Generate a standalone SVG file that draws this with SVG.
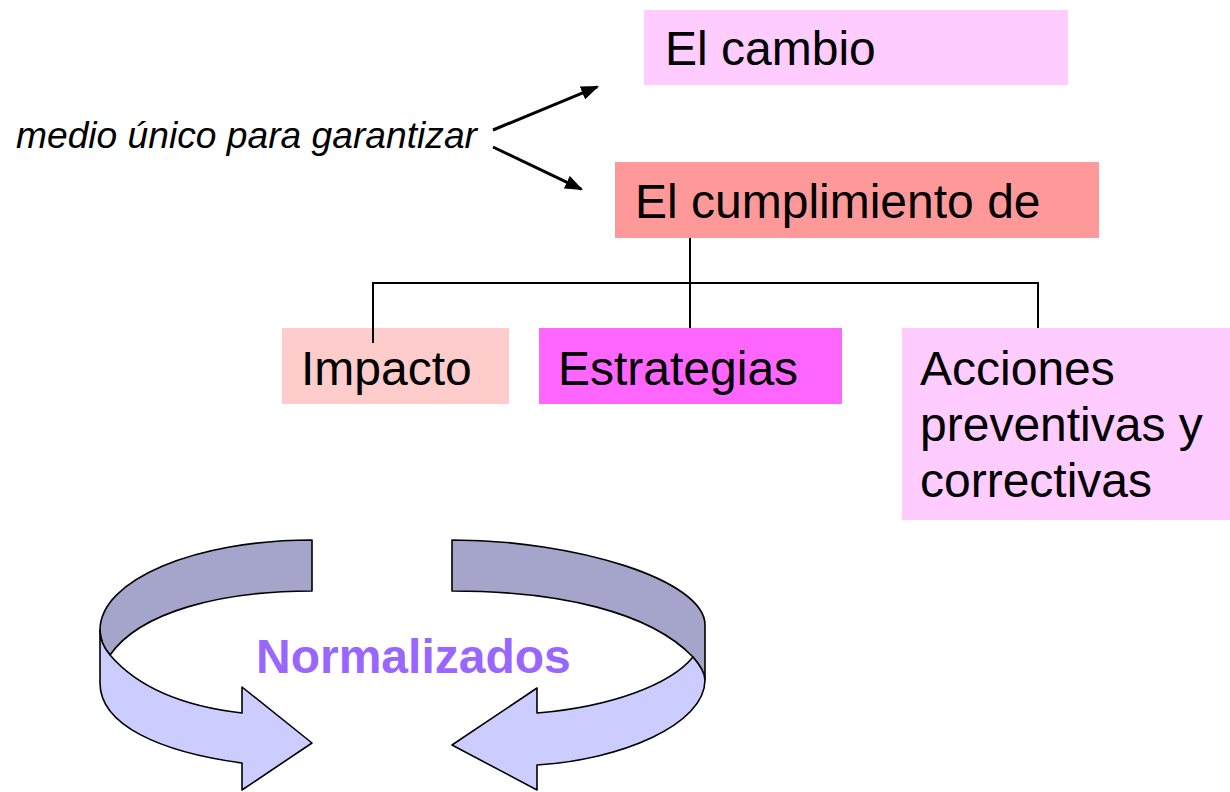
<svg xmlns="http://www.w3.org/2000/svg" width="1230" height="792" viewBox="0 0 1230 792">
<style>
.t{font-family:"Liberation Sans",Arial,sans-serif;font-size:48px;fill:#000}
.it{font-family:"Liberation Sans",Arial,sans-serif;font-size:37px;font-style:italic;fill:#000}
.nb{font-family:"Liberation Sans",Arial,sans-serif;font-size:48px;font-weight:bold;fill:#9966FF}
.c{stroke:#000;stroke-width:2;fill:none}
.a{stroke:#000;stroke-width:3;fill:none;marker-end:url(#ah)}
.dk{fill:#A5A5CC;stroke:#000;stroke-width:1.6;stroke-linejoin:round}
.lt{fill:#CCCCFF;stroke:#000;stroke-width:1.6;stroke-linejoin:round}
</style>
<defs>
<marker id="ah" markerUnits="userSpaceOnUse" markerWidth="18" markerHeight="14" refX="16" refY="7" orient="auto">
<path d="M0,0 L18,7 L0,14 Z" fill="#000"/>
</marker>
</defs>
<rect width="1230" height="792" fill="#fff"/>

<g id="label-medio">
<text class="it" x="16" y="148" textLength="461" lengthAdjust="spacingAndGlyphs">medio único para garantizar</text>
</g>

<g id="node-cambio">
<rect x="644" y="10" width="424" height="75" fill="#FFCCFF"/>
<text class="t" x="665" y="65">El cambio</text>
</g>

<g id="node-cumplimiento">
<rect x="615" y="162" width="484" height="76" fill="#FF9999"/>
<text class="t" x="635" y="218">El cumplimiento de</text>
</g>

<g id="node-impacto">
<rect x="282" y="328" width="227" height="76" fill="#FFCCCC"/>
<text class="t" x="301" y="385">Impacto</text>
</g>

<g id="node-estrategias">
<rect x="539" y="328" width="303" height="76" fill="#FF66FF"/>
<text class="t" x="558" y="385">Estrategias</text>
</g>

<g id="node-acciones">
<rect x="902" y="328" width="328" height="192" fill="#FFCCFF"/>
<text class="t" x="920" y="385">Acciones</text>
<text class="t" x="920" y="441">preventivas y</text>
<text class="t" x="920" y="497">correctivas</text>
</g>

<g id="connectors">
<line class="a" x1="493" y1="130" x2="597.2" y2="86.8"/>
<line class="a" x1="493" y1="147" x2="581.2" y2="189.1"/>
<path class="c" d="M690,238 V328"/>
<path class="c" d="M373,343 V283 H1038 V328"/>
</g>

<g id="cycle-left">
<path class="dk" d="M312,540 C195,540 100,580 100,630 C100,640 104,648 110,655 C140,612 220,591 312,591 Z"/>
<path class="lt" d="M100,630 C100,640 104,648 110,655 C140,690 190,707 242,713 L242,687 L312,743 L242,790 L242,763 C160,752 100,725 100,683 Z"/>
</g>

<g id="cycle-right">
<path class="dk" d="M452,540 C575,540 705,580 705,625 L705,680 C705,672 699,664 693,657 C650,612 560,591 452,591 Z"/>
<path class="lt" d="M693,657 C699,664 705,672 705,680 C705,725 620,760 537,765 L537,790 L452,745 L537,688 L537,713 C610,707 670,685 693,657 Z"/>
</g>

<g id="label-normalizados">
<text class="nb" x="256" y="673">Normalizados</text>
</g>
</svg>
